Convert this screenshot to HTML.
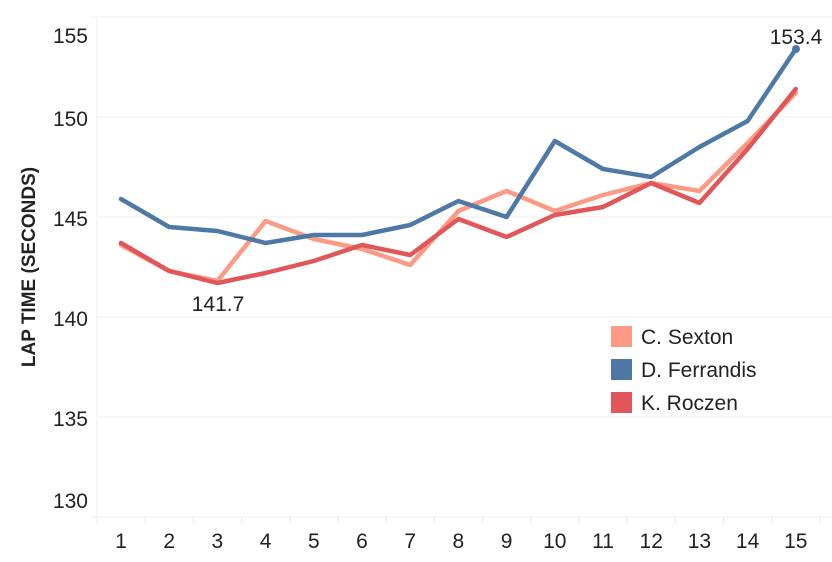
<!DOCTYPE html>
<html><head><meta charset="utf-8"><style>
body{margin:0;background:#fff;}
svg text{font-family:"Liberation Sans",sans-serif;}
</style></head><body>
<svg width="832" height="557" xmlns="http://www.w3.org/2000/svg">
<g stroke="#efefef" stroke-width="1">
<line x1="90" y1="17" x2="832" y2="17"/>
<line x1="97" y1="117" x2="832" y2="117"/>
<line x1="97" y1="217" x2="832" y2="217"/>
<line x1="97" y1="317" x2="832" y2="317"/>
<line x1="97" y1="417" x2="832" y2="417"/>
<line x1="90" y1="517" x2="832" y2="517"/>
<line x1="97" y1="17" x2="97" y2="524"/>
</g>
<g stroke="#e8e8e8" stroke-width="1" id="ticks"></g>
<g font-size="21" fill="#222" text-anchor="end">
<text x="88" y="43">155</text>
<text x="88" y="126">150</text>
<text x="88" y="226">145</text>
<text x="88" y="326">140</text>
<text x="88" y="426">135</text>
<text x="88" y="508">130</text>
</g>
<text transform="translate(35,267) rotate(-90)" font-size="19" font-weight="bold" fill="#222" text-anchor="middle">LAP TIME (SECONDS)</text>
<g id="xl" font-size="21" fill="#222" text-anchor="middle"></g>
<g id="lines" fill="none" stroke-width="4.5" stroke-linejoin="round" stroke-linecap="round"></g>
<circle cx="796" cy="49" r="4" fill="#4e79a7"/>
<text x="796" y="44" font-size="21" fill="#222" text-anchor="middle">153.4</text>
<text x="218" y="311" font-size="21" fill="#222" text-anchor="middle">141.7</text>
<rect x="611" y="326" width="21" height="21" fill="#fc9a84"/>
<rect x="611" y="359" width="21" height="21" fill="#4e79a7"/>
<rect x="611" y="392" width="21" height="21" fill="#e15759"/>
<g font-size="21" fill="#222">
<text x="641" y="344">C. Sexton</text>
<text x="641" y="377">D. Ferrandis</text>
<text x="641" y="410">K. Roczen</text>
</g>
</svg>
<script>
var ns="http://www.w3.org/2000/svg";
function X(i){return 121+i*48.2;}
function Y(v){return 517-(v-130)*20;}
var xl=document.getElementById("xl"),tk=document.getElementById("ticks");
for(var i=0;i<15;i++){var t=document.createElementNS(ns,"text");t.setAttribute("x",X(i));t.setAttribute("y",548);t.textContent=i+1;xl.appendChild(t);
var l=document.createElementNS(ns,"line");var xx=97+(i+1)*48.2;l.setAttribute("x1",xx);l.setAttribute("x2",xx);l.setAttribute("y1",517);l.setAttribute("y2",524);tk.appendChild(l);}
var S=[
["#fc9a84",[143.6,142.3,141.8,144.8,143.9,143.4,142.6,145.3,146.3,145.3,146.1,146.7,146.3,148.7,151.2]],
["#e15759",[143.7,142.3,141.7,142.2,142.8,143.6,143.1,144.9,144.0,145.1,145.5,146.7,145.7,148.4,151.4]],
["#4e79a7",[145.9,144.5,144.3,143.7,144.1,144.1,144.6,145.8,145.0,148.8,147.4,147.0,148.5,149.8,153.4]]];
var g=document.getElementById("lines");
S.forEach(function(s){var p=s[1].map(function(v,i){return X(i)+","+Y(v);}).join(" ");
var e=document.createElementNS(ns,"polyline");e.setAttribute("points",p);e.setAttribute("stroke",s[0]);g.appendChild(e);});
</script>
</body></html>
